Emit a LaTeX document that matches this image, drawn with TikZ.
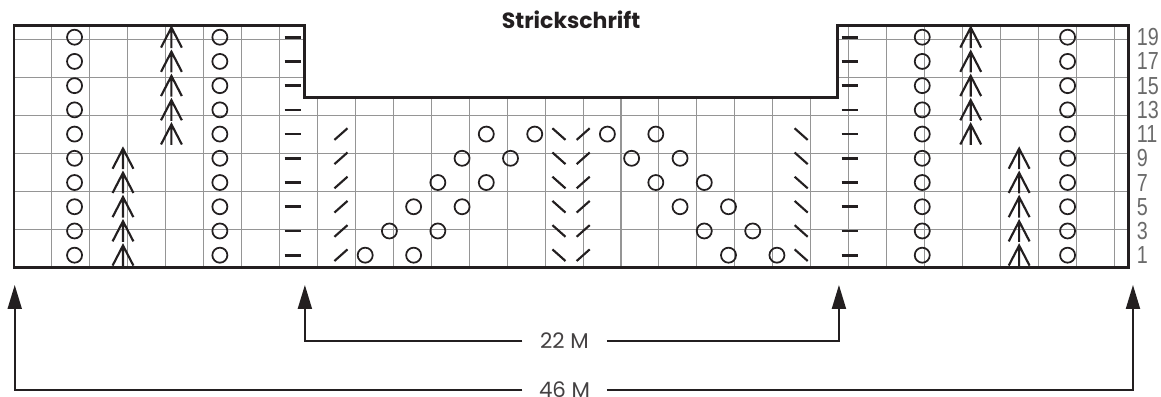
\documentclass[tikz,border=0pt]{standalone}
\usepackage{fontspec}
\setmainfont{Poppins}
\newfontfamily\numfont{Liberation Sans}[FakeStretch=0.8]
\usetikzlibrary{arrows.meta}
\definecolor{gitter}{HTML}{959595}
\definecolor{rand}{HTML}{231F20}
\definecolor{zahl}{HTML}{6A6A6A}

\begin{document}
\begin{tikzpicture}[
  x=18.165pt, y=18.165pt,
  gitter/.style={draw=gitter, line width=0.8pt},
  rahmen/.style={draw=rand, line width=2.2pt, line join=miter},
  zeichen/.style={draw=rand, line width=1.3pt},
  pfeil/.style={draw=rand, line width=1.5pt, -{Triangle[length=18pt, width=10.5pt]}},
  masche/.style={font=\fontsize{16}{18}\selectfont, text=rand!85, inner sep=0pt, minimum width=63pt},
  reihe/.style={font=\numfont\fontsize{18.5}{20}\selectfont, text=zahl, anchor=west, inner sep=0pt},
  umschlag/.pic={\draw[zeichen] (0,0) circle (0.31);},
  links/.pic={\draw[zeichen, line width=2pt] (-0.33,0) -- (0.33,0);},
  rzus/.pic={\draw[zeichen, line width=1.6pt] (-0.27,-0.24) -- (0.27,0.24);},
  uzus/.pic={\draw[zeichen, line width=1.6pt] (-0.27,0.24) -- (0.27,-0.24);},
  dreizus/.pic={\draw[zeichen, line width=1.6pt] (-0.43,-0.43) -- (0,0.4) -- (0.43,-0.43) (0,0.4) -- (0,-0.45);},
]
  \useasboundingbox (-0.578,-5.314) rectangle (47.357,11.036);
  \fill[white] (-0.578,-5.314) rectangle (47.357,11.036);

  % Title
  \node[font=\bfseries\fontsize{16.5}{18}\selectfont, text=rand, anchor=base] (titel) at (23,9.85) {Strickschrift};

  % Grid
  \draw[gitter] (0,0) grid (12,10);
  \draw[gitter] (12,0) grid (34,7);
  \draw[gitter] (34,0) grid (46,10);
  \draw[rahmen] (0,0) -- (0,10) -- (12,10) -- (12,7) -- (34,7) -- (34,10) -- (46,10) -- (46,0) -- cycle;

  % Side panels
  \foreach \r in {1,...,10} {
    \pic at (2.5,\r-0.5) {umschlag};
    \pic at (8.5,\r-0.5) {umschlag};
    \pic at (37.5,\r-0.5) {umschlag};
    \pic at (43.5,\r-0.5) {umschlag};
    \pic at (11.5,\r-0.5) {links};
    \pic at (34.5,\r-0.5) {links};
  }
  \foreach \r in {1,...,5} {
    \pic at (4.5,\r-0.5) {dreizus};
    \pic at (41.5,\r-0.5) {dreizus};
  }
  \foreach \r in {6,...,10} {
    \pic at (6.5,\r-0.5) {dreizus};
    \pic at (39.5,\r-0.5) {dreizus};
  }

  % Middle panel
  \foreach \r in {1,...,6} {
    \pic at (13.5,\r-0.5) {rzus};
    \pic at (22.5,\r-0.5) {uzus};
    \pic at (23.5,\r-0.5) {rzus};
    \pic at (32.5,\r-0.5) {uzus};
    \pic at (13.5+\r,\r-0.5) {umschlag};
    \pic at (15.5+\r,\r-0.5) {umschlag};
    \pic at (32.5-\r,\r-0.5) {umschlag};
    \pic at (30.5-\r,\r-0.5) {umschlag};
  }

  % Row numbers
  \foreach \r [evaluate=\r as \n using int(2*\r-1)] in {1,...,10}
    \node[reihe] (r\n) at (46.35,\r-0.5) {\n};

  % Stitch counts
  \coordinate (innenl) at (12.01,-0.73);
  \coordinate (innenr) at (34.06,-0.73);
  \coordinate (aussenl) at (0.03,-0.73);
  \coordinate (aussenr) at (46.2,-0.73);
  \node[masche] (m22) at (22.73,-3.04) {22 M};
  \node[masche] (m46) at (22.73,-5.07) {46 M};
  \draw[pfeil] (m22.west) -| (innenl);
  \draw[pfeil] (m22.east) -| (innenr);
  \draw[pfeil] (m46.west) -| (aussenl);
  \draw[pfeil] (m46.east) -| (aussenr);
\end{tikzpicture}
\end{document}
